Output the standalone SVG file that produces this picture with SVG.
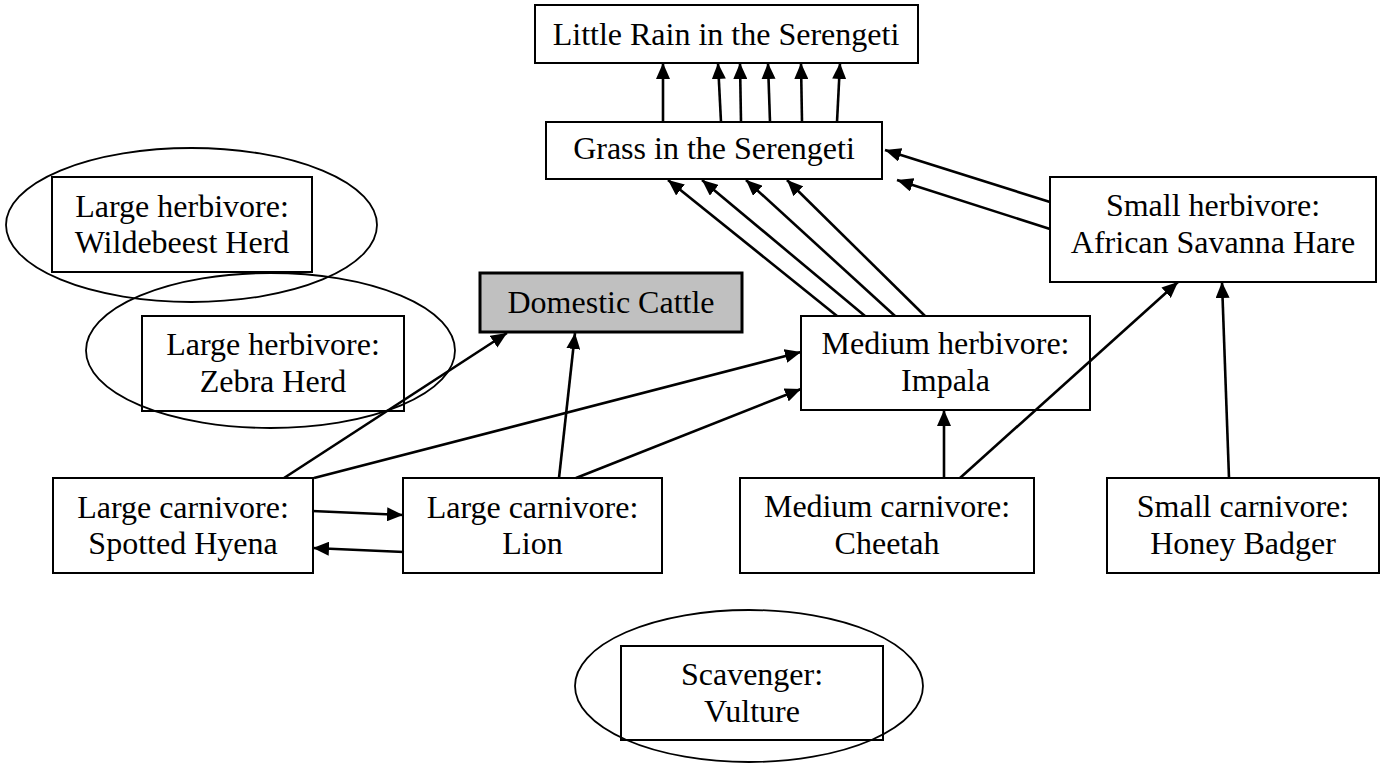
<svg xmlns="http://www.w3.org/2000/svg" width="1382" height="763" viewBox="0 0 1382 763">
<style>
text{font-family:"Liberation Serif","Times New Roman",serif;font-size:32px;fill:#000;text-anchor:middle}
.box{fill:none;stroke:#000;stroke-width:2}
.ell{fill:none;stroke:#000;stroke-width:1.8}
.cattle{fill:#c0c0c0;stroke:#000;stroke-width:3}
.con line{stroke:#000;stroke-width:2.6;marker-end:url(#ah)}
</style>
<defs>
<marker id="ah" viewBox="0 0 16 14" refX="16" refY="7" markerWidth="16" markerHeight="14" markerUnits="userSpaceOnUse" orient="auto">
<path d="M0,0 L16,7 L0,14 Z" fill="#000"/>
</marker>
</defs>
<rect width="1382" height="763" fill="#fff"/>

<g id="rain"><rect class="box" x="535" y="5" width="383" height="58"/><text x="726" y="45">Little Rain in the Serengeti</text></g>
<g id="grass"><rect class="box" x="546" y="122" width="336" height="57"/><text x="714" y="159">Grass in the Serengeti</text></g>

<g id="wildebeest"><ellipse class="ell" cx="191.5" cy="225" rx="185.5" ry="77"/><rect class="box" x="52" y="177" width="260" height="95"/><text x="182" y="217">Large herbivore:</text><text x="182" y="253">Wildebeest Herd</text></g>
<g id="zebra"><ellipse class="ell" cx="270.5" cy="350.5" rx="184.5" ry="77.5"/><rect class="box" x="142" y="316" width="262" height="95"/><text x="273" y="355">Large herbivore:</text><text x="273" y="392">Zebra Herd</text></g>

<g id="cattle"><rect class="cattle" x="480" y="273" width="262" height="59"/><text x="611" y="313">Domestic Cattle</text></g>

<g id="hare"><rect class="box" x="1050" y="177" width="326" height="105"/><text x="1213" y="216">Small herbivore:</text><text x="1213" y="253">African Savanna Hare</text></g>
<g id="impala"><rect class="box" x="801" y="316" width="289" height="94"/><text x="945.5" y="354">Medium herbivore:</text><text x="945.5" y="391">Impala</text></g>

<g id="hyena"><rect class="box" x="53" y="478" width="260" height="95"/><text x="183" y="518">Large carnivore:</text><text x="183" y="554">Spotted Hyena</text></g>
<g id="lion"><rect class="box" x="403" y="478" width="259" height="95"/><text x="532.5" y="518">Large carnivore:</text><text x="532.5" y="554">Lion</text></g>
<g id="cheetah"><rect class="box" x="740" y="478" width="294" height="95"/><text x="887" y="517">Medium carnivore:</text><text x="887" y="554">Cheetah</text></g>
<g id="badger"><rect class="box" x="1107" y="478" width="272" height="95"/><text x="1243" y="517">Small carnivore:</text><text x="1243" y="554">Honey Badger</text></g>

<g id="vulture"><ellipse class="ell" cx="749" cy="686" rx="174" ry="76"/><rect class="box" x="621" y="646" width="262" height="94"/><text x="752" y="685">Scavenger:</text><text x="752" y="722">Vulture</text></g>

<g id="connectors" class="con">
<line x1="663" y1="122" x2="663" y2="63"/>
<line x1="721" y1="122" x2="718" y2="63"/>
<line x1="741" y1="122" x2="740" y2="63"/>
<line x1="770" y1="122" x2="768" y2="63"/>
<line x1="802" y1="122" x2="801" y2="63"/>
<line x1="837" y1="122" x2="840" y2="63"/>
<line x1="837" y1="316" x2="668" y2="180"/>
<line x1="865" y1="316" x2="702" y2="180"/>
<line x1="895" y1="316" x2="746" y2="180"/>
<line x1="925" y1="316" x2="787" y2="180"/>
<line x1="1050" y1="202" x2="885" y2="150"/>
<line x1="1050" y1="229" x2="897" y2="180"/>
<line x1="284" y1="478" x2="507" y2="333"/>
<line x1="314" y1="478" x2="801" y2="352"/>
<line x1="559" y1="478" x2="575" y2="333"/>
<line x1="576" y1="478" x2="801" y2="389"/>
<line x1="312" y1="511" x2="403" y2="515"/>
<line x1="404" y1="552" x2="313" y2="548"/>
<line x1="944" y1="478" x2="944" y2="410"/>
<line x1="960" y1="478" x2="1178" y2="282"/>
<line x1="1229" y1="478" x2="1222" y2="282"/>
</g>
</svg>
